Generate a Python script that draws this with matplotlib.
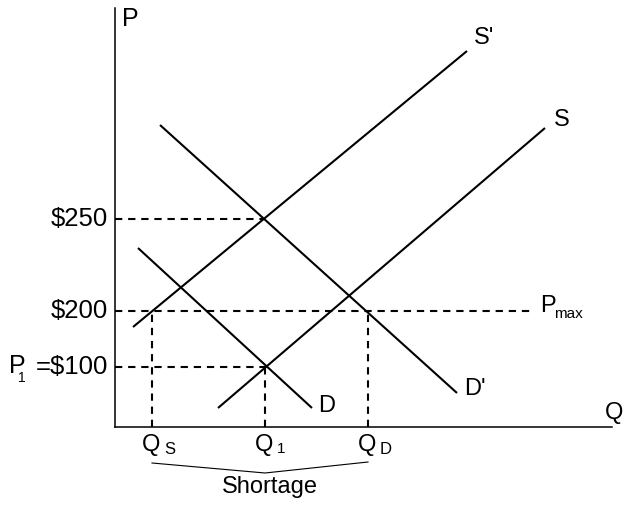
import numpy as np
import matplotlib.pyplot as plt

plt.rcParams['font.family'] = ['Liberation Sans', 'DejaVu Sans']

# schematic units: origin at the axis corner
q_marks = [37, 150, 253]           # Q_S, Q_1, Q_D
q_subs = ['S', '1', 'D']
p_marks = [208, 116, 60]           # $250, $200 (Pmax), $100
p_labels = ['$250', '$200', '=$100']
pmax_end = 415

curves = {
    "S'": ([18, 352], [100, 376]),
    'S':  ([103, 430], [19, 299]),
    'D':  ([23, 197], [179, 19]),
    "D'": ([45, 342], [302, 34]),
}
curve_labels = {"S'": (369, 389), 'S': (447, 307), 'D': (212, 21), "D'": (360, 38)}

fig = plt.figure(figsize=(6.27, 5.05), dpi=100)
ax = fig.add_axes([0, 0, 1, 1])
ax.set_xlim(-115, 512)
ax.set_ylim(-78, 427)
ax.axis('off')

fs = 17

# axes
ax.plot([0, 0], [0, 419], color='black', lw=1.1)
ax.plot([0, 497], [0, 0], color='black', lw=1.1)
ax.text(7, 408, 'P', fontsize=18, ha='left', va='center')
ax.text(499, 14, 'Q', fontsize=fs, ha='center', va='center')

# supply and demand curves
for name, (xs, ys) in curves.items():
    ax.plot(xs, ys, color='black', lw=1.5, solid_capstyle='butt')
for name, (x, y) in curve_labels.items():
    ax.text(x, y, name, fontsize=fs, ha='center', va='center')

# dashed guides
dash = dict(color='black', lw=1.5, linestyle=(0, (3.5, 2.8)))
ax.plot([0, q_marks[1]], [p_marks[0]] * 2, **dash)
ax.plot([0, pmax_end], [p_marks[1]] * 2, **dash)
ax.plot([0, q_marks[1]], [p_marks[2]] * 2, **dash)
ax.plot([q_marks[0]] * 2, [0, p_marks[1]], **dash)
ax.plot([q_marks[1]] * 2, [0, p_marks[2]], **dash)
ax.plot([q_marks[2]] * 2, [0, p_marks[1]], **dash)

# price labels
for p, t in zip(p_marks, p_labels):
    ax.text(-7, p, t, fontsize=18.5, ha='right', va='center')
ax.text(-89, p_marks[2] + 1, 'P', fontsize=18, ha='right', va='center')
ax.text(-93, p_marks[2] - 11, '1', fontsize=10, ha='center', va='center')
ax.text(425, 121, 'P', fontsize=fs, ha='left', va='center')
ax.text(439, 113, 'max', fontsize=11, ha='left', va='center')

# quantity labels
for q, s in zip(q_marks, q_subs):
    ax.text(q - 10, -18, 'Q', fontsize=fs, ha='left', va='center')
    ax.text(q + 12, -22, s, fontsize=12 if s != '1' else 11, ha='left', va='center')

# shortage brace
ax.plot([q_marks[0], q_marks[1], q_marks[2]], [-36, -46, -35], color='black', lw=0.8)
ax.text(154.5, -60, 'Shortage', fontsize=fs, ha='center', va='center')

fig.savefig('out.png', dpi=100)
